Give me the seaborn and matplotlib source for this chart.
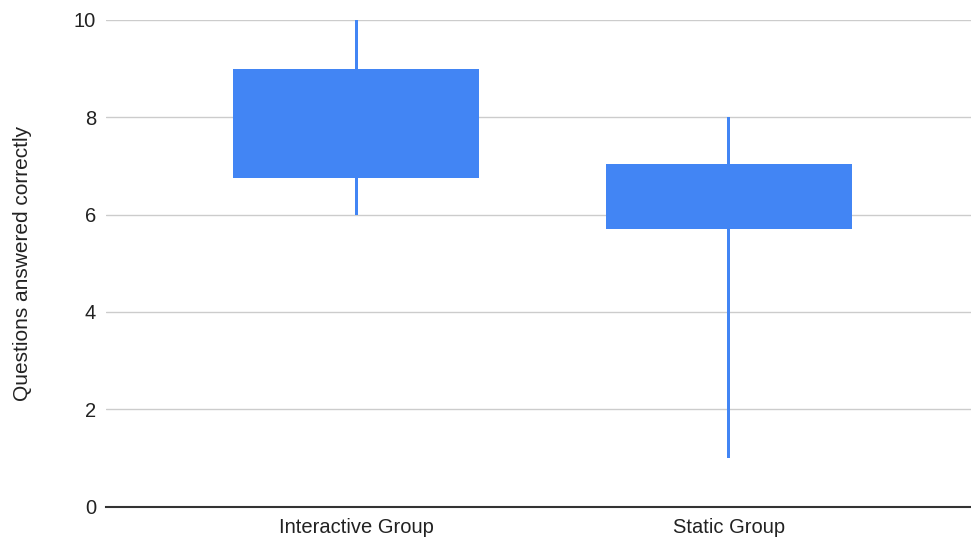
import matplotlib
matplotlib.use("Agg")
import matplotlib.pyplot as plt
import seaborn as sns
import pandas as pd

groups = ["Interactive Group", "Static Group"]
low = [6, 1]
q1 = [6.75, 5.7]
q3 = [9, 7.03]
high = [10, 8]

box_color = "#4285F4"

sns.set_theme(style="white")
plt.rcParams["font.family"] = ["Liberation Sans", "DejaVu Sans"]

df = pd.DataFrame({"group": groups, "low": low, "q1": q1, "q3": q3, "high": high})
df["span"] = df["high"] - df["low"]
df["box"] = df["q3"] - df["q1"]

fig = plt.figure(figsize=(9.71, 5.4), dpi=100)
ax = fig.add_axes([0.109, 0.062, 0.891, 0.901])

# light horizontal grid behind the marks
ax.set_axisbelow(True)
ax.yaxis.grid(True, color="#cccccc", linewidth=1)

# whiskers: thin bars from low to high
sns.barplot(data=df, x="group", y="span", bottom=df["low"].to_numpy(),
            color=box_color, saturation=1, width=0.008, linewidth=0,
            errorbar=None, ax=ax, zorder=2)
# boxes: from q1 to q3
sns.barplot(data=df, x="group", y="box", bottom=df["q1"].to_numpy(),
            color=box_color, saturation=1, width=0.66, linewidth=0,
            errorbar=None, ax=ax, zorder=3)

ax.set_xlim(-0.672, 1.65)
ax.set_ylim(0, 10)
ax.set_yticks([0, 2, 4, 6, 8, 10])
ax.set_xlabel("")
ax.set_ylabel("Questions answered correctly", fontsize=15, color="#222222", labelpad=30)
ax.tick_params(axis="both", labelsize=14.5, colors="#222222", length=0)
ax.tick_params(axis="y", pad=7)
ax.tick_params(axis="x", pad=8)

for side in ["top", "right", "left"]:
    ax.spines[side].set_visible(False)
ax.spines["bottom"].set_color("#333333")
ax.spines["bottom"].set_linewidth(1.5)
ax.spines["bottom"].set_zorder(4)

fig.savefig("out.png", dpi=100, facecolor="white")
